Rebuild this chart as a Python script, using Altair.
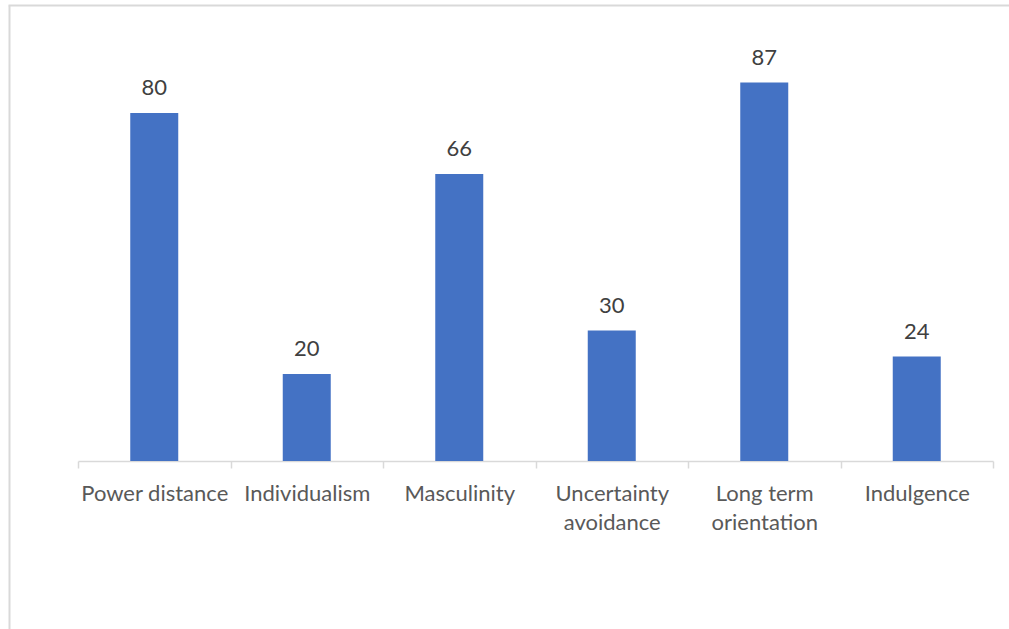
import altair as alt
import pandas as pd

categories = ["Power distance", "Individualism", "Masculinity",
              "Uncertainty avoidance", "Long term orientation", "Indulgence"]
label_lines = ["Power distance", "Individualism", "Masculinity",
               "Uncertainty|avoidance", "Long term|orientation", "Indulgence"]
scores = [80, 20, 66, 30, 87, 24]

df = pd.DataFrame({"dimension": categories, "score": scores})
label_map = dict(zip(categories, label_lines))
map_js = str(label_map).replace("'", '"')
label_expr = ("isValid(" + map_js + "[datum.label]) ? split(" + map_js
              + "[datum.label], '|') : ''")

FONT = "Lato"
PLOT_W, PLOT_H = 915, 435
PAD_L, PAD_T = 78, 26

x_enc = alt.X(
    "dimension:N",
    sort=categories,
    scale=alt.Scale(paddingInner=0, paddingOuter=0),
    axis=alt.Axis(
        title=None,
        labelAngle=0,
        labelFont=FONT,
        labelFontSize=22,
        labelColor="#595959",
        labelBaseline="alphabetic",
        labelPadding=32,
        labelLineHeight=29,
        labelExpr=label_expr,
        labelLimit=300,
        tickBand="extent",
        tickSize=7,
        tickColor="#d9d9d9",
        tickWidth=1.5,
        domainColor="#d9d9d9",
        domainWidth=1.5,
        grid=False,
    ),
)
y_enc = alt.Y("score:Q", scale=alt.Scale(domain=[0, 100]), axis=None)

base = alt.Chart(df)
bars = base.mark_bar(width=48, color="#4472C4").encode(x=x_enc, y=y_enc)
texts = base.mark_text(
    font=FONT, fontSize=22, color="#404040", baseline="alphabetic", dy=-18
).encode(x=alt.X("dimension:N", sort=categories), y="score:Q", text="score:Q")

frame_df = pd.DataFrame({"k": [0]})
left_border = alt.Chart(frame_df).mark_rule(color="#d9d9d9", strokeWidth=2).encode(
    x=alt.value(9.5 - PAD_L), y=alt.value(5.5 - PAD_T), y2=alt.value(640 - PAD_T)
)
top_border = alt.Chart(frame_df).mark_rule(color="#d9d9d9", strokeWidth=2).encode(
    y=alt.value(5.5 - PAD_T), x=alt.value(8.5 - PAD_L), x2=alt.value(1020 - PAD_L)
)

chart = alt.layer(left_border, top_border, bars, texts).properties(
    width=PLOT_W,
    height=PLOT_H,
    padding={"left": PAD_L, "top": PAD_T, "right": 1009 - PAD_L - PLOT_W, "bottom": 629 - PAD_T - PLOT_H},
    autosize=alt.AutoSizeParams(type="none"),
    background="white",
).configure_view(stroke=None)

chart.save("out.html", embed_options={"renderer": "svg", "actions": False})
